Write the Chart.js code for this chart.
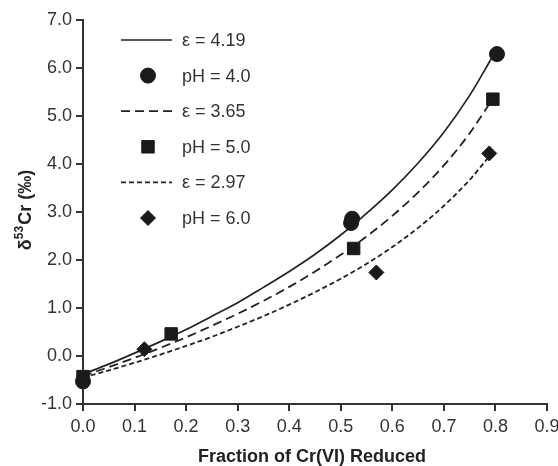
<!DOCTYPE html>
<html>
<head>
<meta charset="utf-8">
<script src="https://cdn.jsdelivr.net/npm/chart.js@4/dist/chart.umd.min.js"></script>
<style>
  html, body { margin: 0; padding: 0; background: #ffffff; }
  #wrap { width: 558px; height: 466px; }
</style>
</head>
<body>
<div id="wrap"><canvas id="c" width="558" height="466"></canvas></div>
<script>
// ---- data ----
const xTicks = [0, 0.1, 0.2, 0.3, 0.4, 0.5, 0.6, 0.7, 0.8, 0.9];
const yTicks = [-1, 0, 1, 2, 3, 4, 5, 6, 7];

const curveLabels = ['ε = 4.19', 'ε = 3.65', 'ε = 2.97'];
const fitX419 = [0, 0.05, 0.1, 0.15, 0.2, 0.25, 0.3, 0.35, 0.4, 0.45, 0.5, 0.55, 0.6, 0.65, 0.7, 0.75, 0.795];
const fitY419 = [-0.38, -0.17, 0.06, 0.30, 0.55, 0.83, 1.11, 1.43, 1.76, 2.12, 2.52, 2.97, 3.46, 4.02, 4.66, 5.43, 6.25];
const fitX365 = [0, 0.05, 0.1, 0.15, 0.2, 0.25, 0.3, 0.35, 0.4, 0.45, 0.5, 0.55, 0.6, 0.65, 0.7, 0.75, 0.79];
const fitY365 = [-0.42, -0.23, -0.04, 0.17, 0.39, 0.63, 0.88, 1.15, 1.44, 1.76, 2.11, 2.49, 2.92, 3.41, 3.97, 4.64, 5.28];
const fitX297 = [0, 0.05, 0.1, 0.15, 0.2, 0.25, 0.3, 0.35, 0.4, 0.45, 0.5, 0.55, 0.6, 0.65, 0.7, 0.75, 0.785];
const fitY297 = [-0.45, -0.30, -0.14, 0.03, 0.21, 0.40, 0.61, 0.83, 1.07, 1.33, 1.61, 1.92, 2.27, 2.67, 3.13, 3.67, 4.12];

const pointLabels = ['pH = 4.0', 'pH = 5.0', 'pH = 6.0'];
const ph4X = [0, 0.52, 0.522, 0.803];
const ph4Y = [-0.53, 2.77, 2.86, 6.29];
const ph5X = [0, 0.171, 0.525, 0.795];
const ph5Y = [-0.43, 0.46, 2.24, 5.35];
const ph6X = [0.119, 0.569, 0.788];
const ph6Y = [0.14, 1.74, 4.22];

const xTitle = 'Fraction of Cr(VI) Reduced';
const yTitleParts = ['δ', '53', 'Cr (‰)'];

// ---- styling ----
const FONT = '"Liberation Sans", Arial, Helvetica, sans-serif';
const INK = '#222222';
const TEXT = '#333333';

function pts(xs, ys) { return xs.map((x, i) => ({ x: x, y: ys[i] })); }

const lineCommon = {
  showLine: true, pointRadius: 0, pointHoverRadius: 0, borderColor: INK,
  backgroundColor: INK, cubicInterpolationMode: 'monotone', fill: false, clip: false
};
const markCommon = {
  showLine: false, backgroundColor: '#1a1a1a', borderColor: '#1a1a1a', borderWidth: 1, clip: false
};

const datasets = [
  Object.assign({ label: pointLabels[0], data: pts(ph4X, ph4Y), pointStyle: 'circle', pointRadius: 7.5, order: 1 }, markCommon),
  Object.assign({ label: pointLabels[1], data: pts(ph5X, ph5Y), pointStyle: 'rect', pointRadius: 8.8, order: 1 }, markCommon),
  Object.assign({ label: pointLabels[2], data: pts(ph6X, ph6Y), pointStyle: 'rectRot', pointRadius: 7.5, order: 1 }, markCommon),
  Object.assign({ label: curveLabels[0], data: pts(fitX419, fitY419), borderWidth: 1.7, borderDash: [], order: 2 }, lineCommon),
  Object.assign({ label: curveLabels[1], data: pts(fitX365, fitY365), borderWidth: 1.8, borderDash: [9, 5], order: 2 }, lineCommon),
  Object.assign({ label: curveLabels[2], data: pts(fitX297, fitY297), borderWidth: 1.8, borderDash: [5, 3], order: 2 }, lineCommon)
];

const legendOrder = [3, 0, 4, 1, 5, 2];

const decorPlugin = {
  id: 'decor',
  afterDraw(chart) {
    const ctx = chart.ctx;
    const area = chart.chartArea;
    ctx.save();
    // legend
    const rowY0 = area.top + 20, rowStep = 35.6;
    const lineX0 = 121, lineX1 = 172, markX = 148, textX = 182;
    legendOrder.forEach((di, i) => {
      const ds = chart.data.datasets[di];
      const y = rowY0 + i * rowStep;
      if (ds.showLine) {
        ctx.beginPath();
        ctx.setLineDash(ds.borderDash || []);
        ctx.lineWidth = ds.borderWidth;
        ctx.strokeStyle = ds.borderColor;
        ctx.moveTo(lineX0, y);
        ctx.lineTo(lineX1, y);
        ctx.stroke();
        ctx.setLineDash([]);
      } else {
        ctx.fillStyle = ds.backgroundColor;
        ctx.strokeStyle = ds.borderColor;
        ctx.lineWidth = 1;
        Chart.helpers.drawPoint(ctx, {
          pointStyle: ds.pointStyle, radius: ds.pointRadius, rotation: 0, borderWidth: 1
        }, markX, y);
      }
      ctx.fillStyle = TEXT;
      ctx.font = '18px ' + FONT;
      ctx.textAlign = 'left';
      ctx.textBaseline = 'middle';
      ctx.fillText(ds.label, textX, y + 1);
    });

    // x title
    ctx.fillStyle = '#222';
    ctx.font = 'bold 18px ' + FONT;
    ctx.textAlign = 'center';
    ctx.textBaseline = 'middle';
    ctx.fillText(xTitle, (area.left + area.right) / 2 - 3, 457);

    // y title (rotated, with superscript)
    const big = 'bold 18px ' + FONT, small = 'bold 12px ' + FONT;
    ctx.font = big; const w0 = ctx.measureText(yTitleParts[0]).width;
    ctx.font = small; const w1 = ctx.measureText(yTitleParts[1]).width;
    ctx.font = big; const w2 = ctx.measureText(yTitleParts[2]).width;
    const total = w0 + w1 + 1 + w2;
    ctx.translate(26, (area.top + area.bottom) / 2 - 2);
    ctx.rotate(-Math.PI / 2);
    ctx.textAlign = 'left';
    ctx.textBaseline = 'middle';
    let cx = -total / 2;
    ctx.font = big; ctx.fillText(yTitleParts[0], cx, 0); cx += w0;
    ctx.font = small; ctx.fillText(yTitleParts[1], cx, -6); cx += w1 + 1;
    ctx.font = big; ctx.fillText(yTitleParts[2], cx, 0);
    ctx.restore();
  }
};

new Chart(document.getElementById('c'), {
  type: 'scatter',
  data: { datasets: datasets },
  options: {
    responsive: false,
    animation: false,
    events: [],
    layout: { padding: { top: 20, right: 11, left: 0, bottom: 0 } },
    plugins: { legend: { display: false }, tooltip: { enabled: false }, title: { display: false } },
    scales: {
      x: {
        type: 'linear', min: 0, max: 0.9,
        afterBuildTicks(s) { s.ticks = xTicks.map(v => ({ value: v })); },
        afterFit(s) { s.height = 62; s.paddingLeft = 0; s.paddingRight = 0; },
        ticks: { color: TEXT, font: { family: FONT, size: 18 }, padding: 5, maxRotation: 0,
                 callback: v => Number(v).toFixed(1) },
        grid: { drawOnChartArea: false, drawTicks: true, tickLength: 7, color: '#333', lineWidth: 2 },
        border: { display: true, color: '#333', width: 2 }
      },
      y: {
        type: 'linear', min: -1, max: 7,
        afterBuildTicks(s) { s.ticks = yTicks.map(v => ({ value: v })); },
        afterFit(s) { s.width = 83; s.paddingTop = 0; s.paddingBottom = 0; },
        ticks: { color: TEXT, font: { family: FONT, size: 18 }, padding: 4,
                 callback: v => Number(v).toFixed(1) },
        grid: { drawOnChartArea: false, drawTicks: true, tickLength: 7, color: '#333', lineWidth: 2 },
        border: { display: true, color: '#333', width: 2 }
      }
    }
  },
  plugins: [decorPlugin]
});
</script>
</body>
</html>
